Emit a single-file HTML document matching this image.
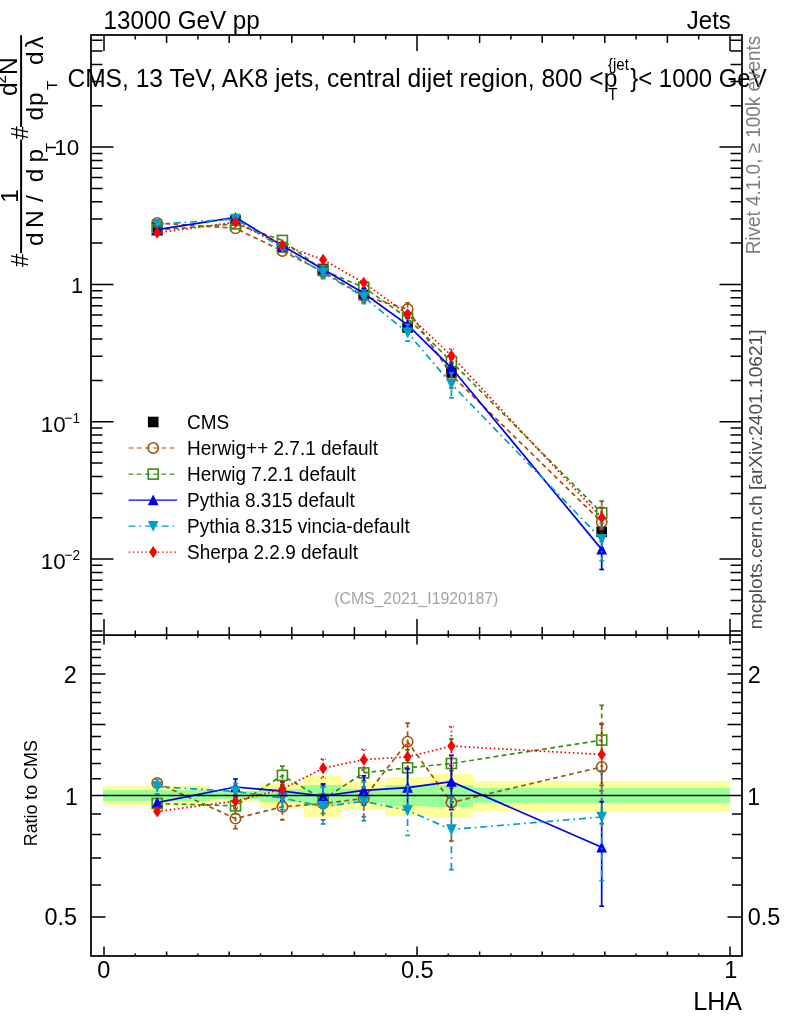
<!DOCTYPE html>
<html lang="en"><head><meta charset="utf-8"><title>LHA plot</title>
<style>html,body{margin:0;padding:0;background:#fff}body{width:786px;height:1024px;overflow:hidden}</style>
</head><body>
<svg width="786" height="1024" viewBox="0 0 786 1024" font-family='"Liberation Sans", sans-serif' style="display:block">
<rect width="786" height="1024" fill="#fff"/>
<g shape-rendering="crispEdges">
<rect x="103.2" y="785.9" width="107.2" height="19.8" fill="#ffff99"/>
<rect x="209.6" y="789.7" width="50.9" height="12.5" fill="#ffff99"/>
<rect x="259.7" y="783.0" width="44.6" height="25.4" fill="#ffff99"/>
<rect x="303.5" y="776.3" width="38.4" height="40.4" fill="#ffff99"/>
<rect x="341.1" y="782.3" width="44.6" height="27.9" fill="#ffff99"/>
<rect x="384.9" y="776.9" width="44.6" height="38.7" fill="#ffff99"/>
<rect x="428.7" y="774.2" width="44.6" height="44.2" fill="#ffff99"/>
<rect x="472.5" y="781.0" width="257.5" height="29.6" fill="#ffff99"/>
<rect x="103.2" y="790.0" width="107.2" height="10.6" fill="#99ff99"/>
<rect x="209.6" y="791.3" width="50.9" height="7.9" fill="#99ff99"/>
<rect x="259.7" y="789.3" width="44.6" height="12.5" fill="#99ff99"/>
<rect x="303.5" y="785.4" width="38.4" height="20.4" fill="#99ff99"/>
<rect x="341.1" y="788.5" width="44.6" height="14.3" fill="#99ff99"/>
<rect x="384.9" y="784.9" width="44.6" height="21.5" fill="#99ff99"/>
<rect x="428.7" y="785.0" width="44.6" height="21.6" fill="#99ff99"/>
<rect x="472.5" y="788.2" width="257.5" height="14.7" fill="#99ff99"/>
</g>
<g id="main">
<rect x="151.9" y="222.0" width="10.6" height="10.6" fill="#000"/>
<rect x="230.2" y="215.1" width="10.6" height="10.6" fill="#000"/>
<rect x="277.1" y="241.9" width="10.6" height="10.6" fill="#000"/>
<rect x="317.8" y="263.7" width="10.6" height="10.6" fill="#000"/>
<rect x="358.5" y="289.7" width="10.6" height="10.6" fill="#000"/>
<rect x="402.3" y="322.2" width="10.6" height="10.6" fill="#000"/>
<rect x="446.1" y="367.2" width="10.6" height="10.6" fill="#000"/>
<rect x="596.4" y="526.5" width="10.6" height="10.6" fill="#000"/>
<polyline points="157.2,223.0 235.5,228.3 282.4,251.0 323.1,271.8 363.8,296.0 407.6,309.2 451.4,374.9 601.7,522.1" fill="none" stroke="#a0540f" stroke-width="1.7" stroke-dasharray="4.7 3.5"/>
<line x1="323.1" y1="266.1" x2="323.1" y2="277.3" stroke="#a0540f" stroke-width="1.7" stroke-dasharray="4.7 3.5"/><line x1="320.7" y1="266.1" x2="325.5" y2="266.1" stroke="#a0540f" stroke-width="1.7" stroke-dasharray="4.7 3.5"/><line x1="320.7" y1="277.3" x2="325.5" y2="277.3" stroke="#a0540f" stroke-width="1.7" stroke-dasharray="4.7 3.5"/>
<line x1="363.8" y1="289.9" x2="363.8" y2="302.2" stroke="#a0540f" stroke-width="1.7" stroke-dasharray="4.7 3.5"/><line x1="361.4" y1="289.9" x2="366.2" y2="289.9" stroke="#a0540f" stroke-width="1.7" stroke-dasharray="4.7 3.5"/><line x1="361.4" y1="302.2" x2="366.2" y2="302.2" stroke="#a0540f" stroke-width="1.7" stroke-dasharray="4.7 3.5"/>
<line x1="407.6" y1="302.9" x2="407.6" y2="315.5" stroke="#a0540f" stroke-width="1.7" stroke-dasharray="4.7 3.5"/><line x1="405.2" y1="302.9" x2="410.0" y2="302.9" stroke="#a0540f" stroke-width="1.7" stroke-dasharray="4.7 3.5"/><line x1="405.2" y1="315.5" x2="410.0" y2="315.5" stroke="#a0540f" stroke-width="1.7" stroke-dasharray="4.7 3.5"/>
<line x1="451.4" y1="364.1" x2="451.4" y2="388.0" stroke="#a0540f" stroke-width="1.7" stroke-dasharray="4.7 3.5"/><line x1="449.0" y1="364.1" x2="453.8" y2="364.1" stroke="#a0540f" stroke-width="1.7" stroke-dasharray="4.7 3.5"/><line x1="449.0" y1="388.0" x2="453.8" y2="388.0" stroke="#a0540f" stroke-width="1.7" stroke-dasharray="4.7 3.5"/>
<line x1="601.7" y1="507.5" x2="601.7" y2="541.4" stroke="#a0540f" stroke-width="1.7" stroke-dasharray="4.7 3.5"/><line x1="599.3" y1="507.5" x2="604.1" y2="507.5" stroke="#a0540f" stroke-width="1.7" stroke-dasharray="4.7 3.5"/><line x1="599.3" y1="541.4" x2="604.1" y2="541.4" stroke="#a0540f" stroke-width="1.7" stroke-dasharray="4.7 3.5"/>
<circle cx="157.2" cy="223.0" r="5.20" fill="none" stroke="#a0540f" stroke-width="1.6"/>
<circle cx="235.5" cy="228.3" r="5.20" fill="none" stroke="#a0540f" stroke-width="1.6"/>
<circle cx="282.4" cy="251.0" r="5.20" fill="none" stroke="#a0540f" stroke-width="1.6"/>
<circle cx="323.1" cy="271.8" r="5.20" fill="none" stroke="#a0540f" stroke-width="1.6"/>
<circle cx="363.8" cy="296.0" r="5.20" fill="none" stroke="#a0540f" stroke-width="1.6"/>
<circle cx="407.6" cy="309.2" r="5.20" fill="none" stroke="#a0540f" stroke-width="1.6"/>
<circle cx="451.4" cy="374.9" r="5.20" fill="none" stroke="#a0540f" stroke-width="1.6"/>
<circle cx="601.7" cy="522.1" r="5.20" fill="none" stroke="#a0540f" stroke-width="1.6"/>
<polyline points="157.2,230.0 235.5,223.9 282.4,240.4 323.1,270.3 363.8,287.3 407.6,318.1 451.4,361.6 601.7,512.9" fill="none" stroke="#3a8c12" stroke-width="1.7" stroke-dasharray="4.7 3.5"/>
<line x1="323.1" y1="265.4" x2="323.1" y2="275.1" stroke="#3a8c12" stroke-width="1.7" stroke-dasharray="4.7 3.5"/><line x1="320.7" y1="265.4" x2="325.5" y2="265.4" stroke="#3a8c12" stroke-width="1.7" stroke-dasharray="4.7 3.5"/><line x1="320.7" y1="275.1" x2="325.5" y2="275.1" stroke="#3a8c12" stroke-width="1.7" stroke-dasharray="4.7 3.5"/>
<line x1="363.8" y1="282.6" x2="363.8" y2="292.1" stroke="#3a8c12" stroke-width="1.7" stroke-dasharray="4.7 3.5"/><line x1="361.4" y1="282.6" x2="366.2" y2="282.6" stroke="#3a8c12" stroke-width="1.7" stroke-dasharray="4.7 3.5"/><line x1="361.4" y1="292.1" x2="366.2" y2="292.1" stroke="#3a8c12" stroke-width="1.7" stroke-dasharray="4.7 3.5"/>
<line x1="407.6" y1="311.9" x2="407.6" y2="324.3" stroke="#3a8c12" stroke-width="1.7" stroke-dasharray="4.7 3.5"/><line x1="405.2" y1="311.9" x2="410.0" y2="311.9" stroke="#3a8c12" stroke-width="1.7" stroke-dasharray="4.7 3.5"/><line x1="405.2" y1="324.3" x2="410.0" y2="324.3" stroke="#3a8c12" stroke-width="1.7" stroke-dasharray="4.7 3.5"/>
<line x1="451.4" y1="353.2" x2="451.4" y2="369.9" stroke="#3a8c12" stroke-width="1.7" stroke-dasharray="4.7 3.5"/><line x1="449.0" y1="353.2" x2="453.8" y2="353.2" stroke="#3a8c12" stroke-width="1.7" stroke-dasharray="4.7 3.5"/><line x1="449.0" y1="369.9" x2="453.8" y2="369.9" stroke="#3a8c12" stroke-width="1.7" stroke-dasharray="4.7 3.5"/>
<line x1="601.7" y1="501.1" x2="601.7" y2="528.4" stroke="#3a8c12" stroke-width="1.7" stroke-dasharray="4.7 3.5"/><line x1="599.3" y1="501.1" x2="604.1" y2="501.1" stroke="#3a8c12" stroke-width="1.7" stroke-dasharray="4.7 3.5"/><line x1="599.3" y1="528.4" x2="604.1" y2="528.4" stroke="#3a8c12" stroke-width="1.7" stroke-dasharray="4.7 3.5"/>
<rect x="152.2" y="225.0" width="10.0" height="10.0" fill="none" stroke="#3a8c12" stroke-width="1.6"/>
<rect x="230.5" y="218.9" width="10.0" height="10.0" fill="none" stroke="#3a8c12" stroke-width="1.6"/>
<rect x="277.4" y="235.4" width="10.0" height="10.0" fill="none" stroke="#3a8c12" stroke-width="1.6"/>
<rect x="318.1" y="265.3" width="10.0" height="10.0" fill="none" stroke="#3a8c12" stroke-width="1.6"/>
<rect x="358.8" y="282.3" width="10.0" height="10.0" fill="none" stroke="#3a8c12" stroke-width="1.6"/>
<rect x="402.6" y="313.1" width="10.0" height="10.0" fill="none" stroke="#3a8c12" stroke-width="1.6"/>
<rect x="446.4" y="356.6" width="10.0" height="10.0" fill="none" stroke="#3a8c12" stroke-width="1.6"/>
<rect x="596.7" y="507.9" width="10.0" height="10.0" fill="none" stroke="#3a8c12" stroke-width="1.6"/>
<polyline points="157.2,229.7 235.5,217.5 282.4,245.7 323.1,269.2 363.8,293.3 407.6,324.8 451.4,367.8 601.7,549.4" fill="none" stroke="#0000ee" stroke-width="1.7"/>
<line x1="363.8" y1="288.3" x2="363.8" y2="298.2" stroke="#0000ee" stroke-width="1.7"/><line x1="361.4" y1="288.3" x2="366.2" y2="288.3" stroke="#0000ee" stroke-width="1.7"/><line x1="361.4" y1="298.2" x2="366.2" y2="298.2" stroke="#0000ee" stroke-width="1.7"/>
<line x1="407.6" y1="318.3" x2="407.6" y2="331.3" stroke="#0000ee" stroke-width="1.7"/><line x1="405.2" y1="318.3" x2="410.0" y2="318.3" stroke="#0000ee" stroke-width="1.7"/><line x1="405.2" y1="331.3" x2="410.0" y2="331.3" stroke="#0000ee" stroke-width="1.7"/>
<line x1="451.4" y1="358.8" x2="451.4" y2="377.3" stroke="#0000ee" stroke-width="1.7"/><line x1="449.0" y1="358.8" x2="453.8" y2="358.8" stroke="#0000ee" stroke-width="1.7"/><line x1="449.0" y1="377.3" x2="453.8" y2="377.3" stroke="#0000ee" stroke-width="1.7"/>
<line x1="601.7" y1="533.9" x2="601.7" y2="569.5" stroke="#0000ee" stroke-width="1.7"/><line x1="599.3" y1="533.9" x2="604.1" y2="533.9" stroke="#0000ee" stroke-width="1.7"/><line x1="599.3" y1="569.5" x2="604.1" y2="569.5" stroke="#0000ee" stroke-width="1.7"/>
<polygon points="151.8,234.9 162.6,234.9 157.2,224.1" fill="#0000ee"/>
<polygon points="230.1,222.7 240.9,222.7 235.5,211.9" fill="#0000ee"/>
<polygon points="277.0,250.9 287.8,250.9 282.4,240.1" fill="#0000ee"/>
<polygon points="317.7,274.4 328.5,274.4 323.1,263.6" fill="#0000ee"/>
<polygon points="358.4,298.5 369.2,298.5 363.8,287.7" fill="#0000ee"/>
<polygon points="402.2,330.0 413.0,330.0 407.6,319.2" fill="#0000ee"/>
<polygon points="446.0,373.0 456.8,373.0 451.4,362.2" fill="#0000ee"/>
<polygon points="596.3,554.6 607.1,554.6 601.7,543.8" fill="#0000ee"/>
<polyline points="157.2,224.2 235.5,219.0 282.4,248.1 323.1,272.8 363.8,297.0 407.6,332.6 451.4,384.1 601.7,539.1" fill="none" stroke="#00a0c4" stroke-width="1.7" stroke-dasharray="7 3.9 1.7 3.9"/>
<line x1="323.1" y1="266.1" x2="323.1" y2="278.7" stroke="#00a0c4" stroke-width="1.7" stroke-dasharray="7 3.9 1.7 3.9"/><line x1="320.7" y1="266.1" x2="325.5" y2="266.1" stroke="#00a0c4" stroke-width="1.7" stroke-dasharray="7 3.9 1.7 3.9"/><line x1="320.7" y1="278.7" x2="325.5" y2="278.7" stroke="#00a0c4" stroke-width="1.7" stroke-dasharray="7 3.9 1.7 3.9"/>
<line x1="363.8" y1="290.4" x2="363.8" y2="303.6" stroke="#00a0c4" stroke-width="1.7" stroke-dasharray="7 3.9 1.7 3.9"/><line x1="361.4" y1="290.4" x2="366.2" y2="290.4" stroke="#00a0c4" stroke-width="1.7" stroke-dasharray="7 3.9 1.7 3.9"/><line x1="361.4" y1="303.6" x2="366.2" y2="303.6" stroke="#00a0c4" stroke-width="1.7" stroke-dasharray="7 3.9 1.7 3.9"/>
<line x1="407.6" y1="324.3" x2="407.6" y2="341.1" stroke="#00a0c4" stroke-width="1.7" stroke-dasharray="7 3.9 1.7 3.9"/><line x1="405.2" y1="324.3" x2="410.0" y2="324.3" stroke="#00a0c4" stroke-width="1.7" stroke-dasharray="7 3.9 1.7 3.9"/><line x1="405.2" y1="341.1" x2="410.0" y2="341.1" stroke="#00a0c4" stroke-width="1.7" stroke-dasharray="7 3.9 1.7 3.9"/>
<line x1="451.4" y1="372.9" x2="451.4" y2="397.8" stroke="#00a0c4" stroke-width="1.7" stroke-dasharray="7 3.9 1.7 3.9"/><line x1="449.0" y1="372.9" x2="453.8" y2="372.9" stroke="#00a0c4" stroke-width="1.7" stroke-dasharray="7 3.9 1.7 3.9"/><line x1="449.0" y1="397.8" x2="453.8" y2="397.8" stroke="#00a0c4" stroke-width="1.7" stroke-dasharray="7 3.9 1.7 3.9"/>
<line x1="601.7" y1="523.4" x2="601.7" y2="560.8" stroke="#00a0c4" stroke-width="1.7" stroke-dasharray="7 3.9 1.7 3.9"/><line x1="599.3" y1="523.4" x2="604.1" y2="523.4" stroke="#00a0c4" stroke-width="1.7" stroke-dasharray="7 3.9 1.7 3.9"/><line x1="599.3" y1="560.8" x2="604.1" y2="560.8" stroke="#00a0c4" stroke-width="1.7" stroke-dasharray="7 3.9 1.7 3.9"/>
<polygon points="151.8,219.0 162.6,219.0 157.2,229.8" fill="#00a0c4"/>
<polygon points="230.1,213.8 240.9,213.8 235.5,224.6" fill="#00a0c4"/>
<polygon points="277.0,242.9 287.8,242.9 282.4,253.7" fill="#00a0c4"/>
<polygon points="317.7,267.6 328.5,267.6 323.1,278.4" fill="#00a0c4"/>
<polygon points="358.4,291.8 369.2,291.8 363.8,302.6" fill="#00a0c4"/>
<polygon points="402.2,327.4 413.0,327.4 407.6,338.2" fill="#00a0c4"/>
<polygon points="446.0,378.9 456.8,378.9 451.4,389.7" fill="#00a0c4"/>
<polygon points="596.3,533.9 607.1,533.9 601.7,544.7" fill="#00a0c4"/>
<polyline points="157.2,232.7 235.5,222.3 282.4,245.0 323.1,259.7 363.8,282.8 407.6,314.3 451.4,355.7 601.7,517.8" fill="none" stroke="#ff0000" stroke-width="1.7" stroke-dasharray="1.6 2.57"/>
<line x1="451.4" y1="349.0" x2="451.4" y2="362.3" stroke="#ff0000" stroke-width="1.7" stroke-dasharray="1.6 2.57"/><line x1="449.0" y1="349.0" x2="453.8" y2="349.0" stroke="#ff0000" stroke-width="1.7" stroke-dasharray="1.6 2.57"/><line x1="449.0" y1="362.3" x2="453.8" y2="362.3" stroke="#ff0000" stroke-width="1.7" stroke-dasharray="1.6 2.57"/>
<line x1="601.7" y1="507.4" x2="601.7" y2="530.3" stroke="#ff0000" stroke-width="1.7" stroke-dasharray="1.6 2.57"/><line x1="599.3" y1="507.4" x2="604.1" y2="507.4" stroke="#ff0000" stroke-width="1.7" stroke-dasharray="1.6 2.57"/><line x1="599.3" y1="530.3" x2="604.1" y2="530.3" stroke="#ff0000" stroke-width="1.7" stroke-dasharray="1.6 2.57"/>
<polygon points="157.2,226.7 161.3,232.7 157.2,238.7 153.1,232.7" fill="#ff0000"/>
<polygon points="235.5,216.3 239.6,222.3 235.5,228.3 231.4,222.3" fill="#ff0000"/>
<polygon points="282.4,239.0 286.5,245.0 282.4,251.0 278.3,245.0" fill="#ff0000"/>
<polygon points="323.1,253.7 327.2,259.7 323.1,265.7 319.0,259.7" fill="#ff0000"/>
<polygon points="363.8,276.8 367.9,282.8 363.8,288.8 359.7,282.8" fill="#ff0000"/>
<polygon points="407.6,308.3 411.7,314.3 407.6,320.3 403.5,314.3" fill="#ff0000"/>
<polygon points="451.4,349.7 455.5,355.7 451.4,361.7 447.3,355.7" fill="#ff0000"/>
<polygon points="601.7,511.8 605.8,517.8 601.7,523.8 597.6,517.8" fill="#ff0000"/>
</g>
<g id="ratio">
<polyline points="157.2,782.9 235.5,818.6 282.4,806.8 323.1,803.6 363.8,798.4 407.6,741.7 451.4,802.5 601.7,766.9" fill="none" stroke="#a0540f" stroke-width="1.7" stroke-dasharray="4.7 3.5"/>
<line x1="235.5" y1="808.6" x2="235.5" y2="828.7" stroke="#a0540f" stroke-width="1.7" stroke-dasharray="4.7 3.5"/><line x1="233.1" y1="808.6" x2="237.9" y2="808.6" stroke="#a0540f" stroke-width="1.7" stroke-dasharray="4.7 3.5"/><line x1="233.1" y1="828.7" x2="237.9" y2="828.7" stroke="#a0540f" stroke-width="1.7" stroke-dasharray="4.7 3.5"/>
<line x1="282.4" y1="793.7" x2="282.4" y2="819.9" stroke="#a0540f" stroke-width="1.7" stroke-dasharray="4.7 3.5"/><line x1="280.0" y1="793.7" x2="284.8" y2="793.7" stroke="#a0540f" stroke-width="1.7" stroke-dasharray="4.7 3.5"/><line x1="280.0" y1="819.9" x2="284.8" y2="819.9" stroke="#a0540f" stroke-width="1.7" stroke-dasharray="4.7 3.5"/>
<line x1="323.1" y1="787.0" x2="323.1" y2="819.9" stroke="#a0540f" stroke-width="1.7" stroke-dasharray="4.7 3.5"/><line x1="320.7" y1="787.0" x2="325.5" y2="787.0" stroke="#a0540f" stroke-width="1.7" stroke-dasharray="4.7 3.5"/><line x1="320.7" y1="819.9" x2="325.5" y2="819.9" stroke="#a0540f" stroke-width="1.7" stroke-dasharray="4.7 3.5"/>
<line x1="363.8" y1="780.5" x2="363.8" y2="816.7" stroke="#a0540f" stroke-width="1.7" stroke-dasharray="4.7 3.5"/><line x1="361.4" y1="780.5" x2="366.2" y2="780.5" stroke="#a0540f" stroke-width="1.7" stroke-dasharray="4.7 3.5"/><line x1="361.4" y1="816.7" x2="366.2" y2="816.7" stroke="#a0540f" stroke-width="1.7" stroke-dasharray="4.7 3.5"/>
<line x1="407.6" y1="723.1" x2="407.6" y2="760.3" stroke="#a0540f" stroke-width="1.7" stroke-dasharray="4.7 3.5"/><line x1="405.2" y1="723.1" x2="410.0" y2="723.1" stroke="#a0540f" stroke-width="1.7" stroke-dasharray="4.7 3.5"/><line x1="405.2" y1="760.3" x2="410.0" y2="760.3" stroke="#a0540f" stroke-width="1.7" stroke-dasharray="4.7 3.5"/>
<line x1="451.4" y1="770.7" x2="451.4" y2="841.0" stroke="#a0540f" stroke-width="1.7" stroke-dasharray="4.7 3.5"/><line x1="449.0" y1="770.7" x2="453.8" y2="770.7" stroke="#a0540f" stroke-width="1.7" stroke-dasharray="4.7 3.5"/><line x1="449.0" y1="841.0" x2="453.8" y2="841.0" stroke="#a0540f" stroke-width="1.7" stroke-dasharray="4.7 3.5"/>
<line x1="601.7" y1="724.0" x2="601.7" y2="823.7" stroke="#a0540f" stroke-width="1.7" stroke-dasharray="4.7 3.5"/><line x1="599.3" y1="724.0" x2="604.1" y2="724.0" stroke="#a0540f" stroke-width="1.7" stroke-dasharray="4.7 3.5"/><line x1="599.3" y1="823.7" x2="604.1" y2="823.7" stroke="#a0540f" stroke-width="1.7" stroke-dasharray="4.7 3.5"/>
<circle cx="157.2" cy="782.9" r="5.20" fill="none" stroke="#a0540f" stroke-width="1.6"/>
<circle cx="235.5" cy="818.6" r="5.20" fill="none" stroke="#a0540f" stroke-width="1.6"/>
<circle cx="282.4" cy="806.8" r="5.20" fill="none" stroke="#a0540f" stroke-width="1.6"/>
<circle cx="323.1" cy="803.6" r="5.20" fill="none" stroke="#a0540f" stroke-width="1.6"/>
<circle cx="363.8" cy="798.4" r="5.20" fill="none" stroke="#a0540f" stroke-width="1.6"/>
<circle cx="407.6" cy="741.7" r="5.20" fill="none" stroke="#a0540f" stroke-width="1.6"/>
<circle cx="451.4" cy="802.5" r="5.20" fill="none" stroke="#a0540f" stroke-width="1.6"/>
<circle cx="601.7" cy="766.9" r="5.20" fill="none" stroke="#a0540f" stroke-width="1.6"/>
<polyline points="157.2,803.5 235.5,805.9 282.4,775.4 323.1,799.3 363.8,772.9 407.6,767.8 451.4,763.5 601.7,740.1" fill="none" stroke="#3a8c12" stroke-width="1.7" stroke-dasharray="4.7 3.5"/>
<line x1="235.5" y1="798.0" x2="235.5" y2="813.9" stroke="#3a8c12" stroke-width="1.7" stroke-dasharray="4.7 3.5"/><line x1="233.1" y1="798.0" x2="237.9" y2="798.0" stroke="#3a8c12" stroke-width="1.7" stroke-dasharray="4.7 3.5"/><line x1="233.1" y1="813.9" x2="237.9" y2="813.9" stroke="#3a8c12" stroke-width="1.7" stroke-dasharray="4.7 3.5"/>
<line x1="282.4" y1="766.1" x2="282.4" y2="784.7" stroke="#3a8c12" stroke-width="1.7" stroke-dasharray="4.7 3.5"/><line x1="280.0" y1="766.1" x2="284.8" y2="766.1" stroke="#3a8c12" stroke-width="1.7" stroke-dasharray="4.7 3.5"/><line x1="280.0" y1="784.7" x2="284.8" y2="784.7" stroke="#3a8c12" stroke-width="1.7" stroke-dasharray="4.7 3.5"/>
<line x1="323.1" y1="785.0" x2="323.1" y2="813.5" stroke="#3a8c12" stroke-width="1.7" stroke-dasharray="4.7 3.5"/><line x1="320.7" y1="785.0" x2="325.5" y2="785.0" stroke="#3a8c12" stroke-width="1.7" stroke-dasharray="4.7 3.5"/><line x1="320.7" y1="813.5" x2="325.5" y2="813.5" stroke="#3a8c12" stroke-width="1.7" stroke-dasharray="4.7 3.5"/>
<line x1="363.8" y1="759.0" x2="363.8" y2="787.0" stroke="#3a8c12" stroke-width="1.7" stroke-dasharray="4.7 3.5"/><line x1="361.4" y1="759.0" x2="366.2" y2="759.0" stroke="#3a8c12" stroke-width="1.7" stroke-dasharray="4.7 3.5"/><line x1="361.4" y1="787.0" x2="366.2" y2="787.0" stroke="#3a8c12" stroke-width="1.7" stroke-dasharray="4.7 3.5"/>
<line x1="407.6" y1="749.8" x2="407.6" y2="786.0" stroke="#3a8c12" stroke-width="1.7" stroke-dasharray="4.7 3.5"/><line x1="405.2" y1="749.8" x2="410.0" y2="749.8" stroke="#3a8c12" stroke-width="1.7" stroke-dasharray="4.7 3.5"/><line x1="405.2" y1="786.0" x2="410.0" y2="786.0" stroke="#3a8c12" stroke-width="1.7" stroke-dasharray="4.7 3.5"/>
<line x1="451.4" y1="738.9" x2="451.4" y2="788.0" stroke="#3a8c12" stroke-width="1.7" stroke-dasharray="4.7 3.5"/><line x1="449.0" y1="738.9" x2="453.8" y2="738.9" stroke="#3a8c12" stroke-width="1.7" stroke-dasharray="4.7 3.5"/><line x1="449.0" y1="788.0" x2="453.8" y2="788.0" stroke="#3a8c12" stroke-width="1.7" stroke-dasharray="4.7 3.5"/>
<line x1="601.7" y1="705.3" x2="601.7" y2="785.5" stroke="#3a8c12" stroke-width="1.7" stroke-dasharray="4.7 3.5"/><line x1="599.3" y1="705.3" x2="604.1" y2="705.3" stroke="#3a8c12" stroke-width="1.7" stroke-dasharray="4.7 3.5"/><line x1="599.3" y1="785.5" x2="604.1" y2="785.5" stroke="#3a8c12" stroke-width="1.7" stroke-dasharray="4.7 3.5"/>
<rect x="152.2" y="798.5" width="10.0" height="10.0" fill="none" stroke="#3a8c12" stroke-width="1.6"/>
<rect x="230.5" y="800.9" width="10.0" height="10.0" fill="none" stroke="#3a8c12" stroke-width="1.6"/>
<rect x="277.4" y="770.4" width="10.0" height="10.0" fill="none" stroke="#3a8c12" stroke-width="1.6"/>
<rect x="318.1" y="794.3" width="10.0" height="10.0" fill="none" stroke="#3a8c12" stroke-width="1.6"/>
<rect x="358.8" y="767.9" width="10.0" height="10.0" fill="none" stroke="#3a8c12" stroke-width="1.6"/>
<rect x="402.6" y="762.8" width="10.0" height="10.0" fill="none" stroke="#3a8c12" stroke-width="1.6"/>
<rect x="446.4" y="758.5" width="10.0" height="10.0" fill="none" stroke="#3a8c12" stroke-width="1.6"/>
<rect x="596.7" y="735.1" width="10.0" height="10.0" fill="none" stroke="#3a8c12" stroke-width="1.6"/>
<polyline points="157.2,802.6 235.5,787.0 282.4,791.2 323.1,796.0 363.8,790.4 407.6,787.6 451.4,781.6 601.7,847.3" fill="none" stroke="#0000ee" stroke-width="1.7"/>
<line x1="235.5" y1="779.0" x2="235.5" y2="796.0" stroke="#0000ee" stroke-width="1.7"/><line x1="233.1" y1="779.0" x2="237.9" y2="779.0" stroke="#0000ee" stroke-width="1.7"/><line x1="233.1" y1="796.0" x2="237.9" y2="796.0" stroke="#0000ee" stroke-width="1.7"/>
<line x1="282.4" y1="782.0" x2="282.4" y2="800.5" stroke="#0000ee" stroke-width="1.7"/><line x1="280.0" y1="782.0" x2="284.8" y2="782.0" stroke="#0000ee" stroke-width="1.7"/><line x1="280.0" y1="800.5" x2="284.8" y2="800.5" stroke="#0000ee" stroke-width="1.7"/>
<line x1="323.1" y1="783.9" x2="323.1" y2="806.5" stroke="#0000ee" stroke-width="1.7"/><line x1="320.7" y1="783.9" x2="325.5" y2="783.9" stroke="#0000ee" stroke-width="1.7"/><line x1="320.7" y1="806.5" x2="325.5" y2="806.5" stroke="#0000ee" stroke-width="1.7"/>
<line x1="363.8" y1="775.8" x2="363.8" y2="805.0" stroke="#0000ee" stroke-width="1.7"/><line x1="361.4" y1="775.8" x2="366.2" y2="775.8" stroke="#0000ee" stroke-width="1.7"/><line x1="361.4" y1="805.0" x2="366.2" y2="805.0" stroke="#0000ee" stroke-width="1.7"/>
<line x1="407.6" y1="768.5" x2="407.6" y2="806.7" stroke="#0000ee" stroke-width="1.7"/><line x1="405.2" y1="768.5" x2="410.0" y2="768.5" stroke="#0000ee" stroke-width="1.7"/><line x1="405.2" y1="806.7" x2="410.0" y2="806.7" stroke="#0000ee" stroke-width="1.7"/>
<line x1="451.4" y1="755.3" x2="451.4" y2="809.6" stroke="#0000ee" stroke-width="1.7"/><line x1="449.0" y1="755.3" x2="453.8" y2="755.3" stroke="#0000ee" stroke-width="1.7"/><line x1="449.0" y1="809.6" x2="453.8" y2="809.6" stroke="#0000ee" stroke-width="1.7"/>
<line x1="601.7" y1="801.7" x2="601.7" y2="906.2" stroke="#0000ee" stroke-width="1.7"/><line x1="599.3" y1="801.7" x2="604.1" y2="801.7" stroke="#0000ee" stroke-width="1.7"/><line x1="599.3" y1="906.2" x2="604.1" y2="906.2" stroke="#0000ee" stroke-width="1.7"/>
<polygon points="151.8,807.8 162.6,807.8 157.2,797.0" fill="#0000ee"/>
<polygon points="230.1,792.2 240.9,792.2 235.5,781.4" fill="#0000ee"/>
<polygon points="277.0,796.4 287.8,796.4 282.4,785.6" fill="#0000ee"/>
<polygon points="317.7,801.2 328.5,801.2 323.1,790.4" fill="#0000ee"/>
<polygon points="358.4,795.6 369.2,795.6 363.8,784.8" fill="#0000ee"/>
<polygon points="402.2,792.8 413.0,792.8 407.6,782.0" fill="#0000ee"/>
<polygon points="446.0,786.8 456.8,786.8 451.4,776.0" fill="#0000ee"/>
<polygon points="596.3,852.5 607.1,852.5 601.7,841.7" fill="#0000ee"/>
<polyline points="157.2,786.5 235.5,791.5 282.4,798.0 323.1,806.6 363.8,801.3 407.6,810.5 451.4,829.5 601.7,817.0" fill="none" stroke="#00a0c4" stroke-width="1.7" stroke-dasharray="7 3.9 1.7 3.9"/>
<line x1="157.2" y1="779.7" x2="157.2" y2="793.9" stroke="#00a0c4" stroke-width="1.7" stroke-dasharray="7 3.9 1.7 3.9"/><line x1="154.8" y1="779.7" x2="159.6" y2="779.7" stroke="#00a0c4" stroke-width="1.7" stroke-dasharray="7 3.9 1.7 3.9"/><line x1="154.8" y1="793.9" x2="159.6" y2="793.9" stroke="#00a0c4" stroke-width="1.7" stroke-dasharray="7 3.9 1.7 3.9"/>
<line x1="235.5" y1="783.5" x2="235.5" y2="799.5" stroke="#00a0c4" stroke-width="1.7" stroke-dasharray="7 3.9 1.7 3.9"/><line x1="233.1" y1="783.5" x2="237.9" y2="783.5" stroke="#00a0c4" stroke-width="1.7" stroke-dasharray="7 3.9 1.7 3.9"/><line x1="233.1" y1="799.5" x2="237.9" y2="799.5" stroke="#00a0c4" stroke-width="1.7" stroke-dasharray="7 3.9 1.7 3.9"/>
<line x1="282.4" y1="786.0" x2="282.4" y2="809.7" stroke="#00a0c4" stroke-width="1.7" stroke-dasharray="7 3.9 1.7 3.9"/><line x1="280.0" y1="786.0" x2="284.8" y2="786.0" stroke="#00a0c4" stroke-width="1.7" stroke-dasharray="7 3.9 1.7 3.9"/><line x1="280.0" y1="809.7" x2="284.8" y2="809.7" stroke="#00a0c4" stroke-width="1.7" stroke-dasharray="7 3.9 1.7 3.9"/>
<line x1="323.1" y1="787.0" x2="323.1" y2="824.0" stroke="#00a0c4" stroke-width="1.7" stroke-dasharray="7 3.9 1.7 3.9"/><line x1="320.7" y1="787.0" x2="325.5" y2="787.0" stroke="#00a0c4" stroke-width="1.7" stroke-dasharray="7 3.9 1.7 3.9"/><line x1="320.7" y1="824.0" x2="325.5" y2="824.0" stroke="#00a0c4" stroke-width="1.7" stroke-dasharray="7 3.9 1.7 3.9"/>
<line x1="363.8" y1="782.0" x2="363.8" y2="820.8" stroke="#00a0c4" stroke-width="1.7" stroke-dasharray="7 3.9 1.7 3.9"/><line x1="361.4" y1="782.0" x2="366.2" y2="782.0" stroke="#00a0c4" stroke-width="1.7" stroke-dasharray="7 3.9 1.7 3.9"/><line x1="361.4" y1="820.8" x2="366.2" y2="820.8" stroke="#00a0c4" stroke-width="1.7" stroke-dasharray="7 3.9 1.7 3.9"/>
<line x1="407.6" y1="786.0" x2="407.6" y2="835.4" stroke="#00a0c4" stroke-width="1.7" stroke-dasharray="7 3.9 1.7 3.9"/><line x1="405.2" y1="786.0" x2="410.0" y2="786.0" stroke="#00a0c4" stroke-width="1.7" stroke-dasharray="7 3.9 1.7 3.9"/><line x1="405.2" y1="835.4" x2="410.0" y2="835.4" stroke="#00a0c4" stroke-width="1.7" stroke-dasharray="7 3.9 1.7 3.9"/>
<line x1="451.4" y1="796.8" x2="451.4" y2="869.7" stroke="#00a0c4" stroke-width="1.7" stroke-dasharray="7 3.9 1.7 3.9"/><line x1="449.0" y1="796.8" x2="453.8" y2="796.8" stroke="#00a0c4" stroke-width="1.7" stroke-dasharray="7 3.9 1.7 3.9"/><line x1="449.0" y1="869.7" x2="453.8" y2="869.7" stroke="#00a0c4" stroke-width="1.7" stroke-dasharray="7 3.9 1.7 3.9"/>
<line x1="601.7" y1="770.9" x2="601.7" y2="880.6" stroke="#00a0c4" stroke-width="1.7" stroke-dasharray="7 3.9 1.7 3.9"/><line x1="599.3" y1="770.9" x2="604.1" y2="770.9" stroke="#00a0c4" stroke-width="1.7" stroke-dasharray="7 3.9 1.7 3.9"/><line x1="599.3" y1="880.6" x2="604.1" y2="880.6" stroke="#00a0c4" stroke-width="1.7" stroke-dasharray="7 3.9 1.7 3.9"/>
<polygon points="151.8,781.3 162.6,781.3 157.2,792.1" fill="#00a0c4"/>
<polygon points="230.1,786.3 240.9,786.3 235.5,797.1" fill="#00a0c4"/>
<polygon points="277.0,792.8 287.8,792.8 282.4,803.6" fill="#00a0c4"/>
<polygon points="317.7,801.4 328.5,801.4 323.1,812.2" fill="#00a0c4"/>
<polygon points="358.4,796.1 369.2,796.1 363.8,806.9" fill="#00a0c4"/>
<polygon points="402.2,805.3 413.0,805.3 407.6,816.1" fill="#00a0c4"/>
<polygon points="446.0,824.3 456.8,824.3 451.4,835.1" fill="#00a0c4"/>
<polygon points="596.3,811.8 607.1,811.8 601.7,822.6" fill="#00a0c4"/>
<polyline points="157.2,811.4 235.5,801.2 282.4,789.0 323.1,768.2 363.8,759.7 407.6,756.8 451.4,746.1 601.7,754.5" fill="none" stroke="#ff0000" stroke-width="1.7" stroke-dasharray="1.6 2.57"/>
<line x1="235.5" y1="795.0" x2="235.5" y2="807.4" stroke="#ff0000" stroke-width="1.7" stroke-dasharray="1.6 2.57"/><line x1="233.1" y1="795.0" x2="237.9" y2="795.0" stroke="#ff0000" stroke-width="1.7" stroke-dasharray="1.6 2.57"/><line x1="233.1" y1="807.4" x2="237.9" y2="807.4" stroke="#ff0000" stroke-width="1.7" stroke-dasharray="1.6 2.57"/>
<line x1="282.4" y1="781.5" x2="282.4" y2="796.5" stroke="#ff0000" stroke-width="1.7" stroke-dasharray="1.6 2.57"/><line x1="280.0" y1="781.5" x2="284.8" y2="781.5" stroke="#ff0000" stroke-width="1.7" stroke-dasharray="1.6 2.57"/><line x1="280.0" y1="796.5" x2="284.8" y2="796.5" stroke="#ff0000" stroke-width="1.7" stroke-dasharray="1.6 2.57"/>
<line x1="323.1" y1="759.1" x2="323.1" y2="778.0" stroke="#ff0000" stroke-width="1.7" stroke-dasharray="1.6 2.57"/><line x1="320.7" y1="759.1" x2="325.5" y2="759.1" stroke="#ff0000" stroke-width="1.7" stroke-dasharray="1.6 2.57"/><line x1="320.7" y1="778.0" x2="325.5" y2="778.0" stroke="#ff0000" stroke-width="1.7" stroke-dasharray="1.6 2.57"/>
<line x1="363.8" y1="749.5" x2="363.8" y2="770.0" stroke="#ff0000" stroke-width="1.7" stroke-dasharray="1.6 2.57"/><line x1="361.4" y1="749.5" x2="366.2" y2="749.5" stroke="#ff0000" stroke-width="1.7" stroke-dasharray="1.6 2.57"/><line x1="361.4" y1="770.0" x2="366.2" y2="770.0" stroke="#ff0000" stroke-width="1.7" stroke-dasharray="1.6 2.57"/>
<line x1="407.6" y1="744.5" x2="407.6" y2="769.5" stroke="#ff0000" stroke-width="1.7" stroke-dasharray="1.6 2.57"/><line x1="405.2" y1="744.5" x2="410.0" y2="744.5" stroke="#ff0000" stroke-width="1.7" stroke-dasharray="1.6 2.57"/><line x1="405.2" y1="769.5" x2="410.0" y2="769.5" stroke="#ff0000" stroke-width="1.7" stroke-dasharray="1.6 2.57"/>
<line x1="451.4" y1="726.6" x2="451.4" y2="765.6" stroke="#ff0000" stroke-width="1.7" stroke-dasharray="1.6 2.57"/><line x1="449.0" y1="726.6" x2="453.8" y2="726.6" stroke="#ff0000" stroke-width="1.7" stroke-dasharray="1.6 2.57"/><line x1="449.0" y1="765.6" x2="453.8" y2="765.6" stroke="#ff0000" stroke-width="1.7" stroke-dasharray="1.6 2.57"/>
<line x1="601.7" y1="723.7" x2="601.7" y2="791.0" stroke="#ff0000" stroke-width="1.7" stroke-dasharray="1.6 2.57"/><line x1="599.3" y1="723.7" x2="604.1" y2="723.7" stroke="#ff0000" stroke-width="1.7" stroke-dasharray="1.6 2.57"/><line x1="599.3" y1="791.0" x2="604.1" y2="791.0" stroke="#ff0000" stroke-width="1.7" stroke-dasharray="1.6 2.57"/>
<polygon points="157.2,805.4 161.3,811.4 157.2,817.4 153.1,811.4" fill="#ff0000"/>
<polygon points="235.5,795.2 239.6,801.2 235.5,807.2 231.4,801.2" fill="#ff0000"/>
<polygon points="282.4,783.0 286.5,789.0 282.4,795.0 278.3,789.0" fill="#ff0000"/>
<polygon points="323.1,762.2 327.2,768.2 323.1,774.2 319.0,768.2" fill="#ff0000"/>
<polygon points="363.8,753.7 367.9,759.7 363.8,765.7 359.7,759.7" fill="#ff0000"/>
<polygon points="407.6,750.8 411.7,756.8 407.6,762.8 403.5,756.8" fill="#ff0000"/>
<polygon points="451.4,740.1 455.5,746.1 451.4,752.1 447.3,746.1" fill="#ff0000"/>
<polygon points="601.7,748.5 605.8,754.5 601.7,760.5 597.6,754.5" fill="#ff0000"/>
</g>
<line x1="91.0" y1="795.5" x2="742.0" y2="795.5" stroke="#000" stroke-width="1.3"/>
<g stroke="#000" fill="none">
<rect x="91.0" y="35.0" width="651.0" height="921.0" stroke-width="1.75"/>
<line x1="91.0" y1="635.0" x2="742.0" y2="635.0" stroke-width="1.75"/>
<path d="M104.0,35.0v16M104.0,619.0V644.5M104.0,956.0v-9.5M135.3,35.0v4.5M135.3,630.5V637.6M135.3,956.0v-2.6M166.6,35.0v8M166.6,627.0V639.5M166.6,956.0v-4.5M197.9,35.0v4.5M197.9,630.5V637.6M197.9,956.0v-2.6M229.2,35.0v8M229.2,627.0V639.5M229.2,956.0v-4.5M260.5,35.0v4.5M260.5,630.5V637.6M260.5,956.0v-2.6M291.8,35.0v8M291.8,627.0V639.5M291.8,956.0v-4.5M323.1,35.0v4.5M323.1,630.5V637.6M323.1,956.0v-2.6M354.4,35.0v8M354.4,627.0V639.5M354.4,956.0v-4.5M385.7,35.0v4.5M385.7,630.5V637.6M385.7,956.0v-2.6M417.0,35.0v16M417.0,619.0V644.5M417.0,956.0v-9.5M448.3,35.0v4.5M448.3,630.5V637.6M448.3,956.0v-2.6M479.6,35.0v8M479.6,627.0V639.5M479.6,956.0v-4.5M510.9,35.0v4.5M510.9,630.5V637.6M510.9,956.0v-2.6M542.2,35.0v8M542.2,627.0V639.5M542.2,956.0v-4.5M573.5,35.0v4.5M573.5,630.5V637.6M573.5,956.0v-2.6M604.8,35.0v8M604.8,627.0V639.5M604.8,956.0v-4.5M636.1,35.0v4.5M636.1,630.5V637.6M636.1,956.0v-2.6M667.4,35.0v8M667.4,627.0V639.5M667.4,956.0v-4.5M698.7,35.0v4.5M698.7,630.5V637.6M698.7,956.0v-2.6M730.0,35.0v16M730.0,619.0V644.5M730.0,956.0v-9.5M91.0,630.9h11.5M742.0,630.9h-11.5M91.0,613.7h11.5M742.0,613.7h-11.5M91.0,600.4h11.5M742.0,600.4h-11.5M91.0,589.5h11.5M742.0,589.5h-11.5M91.0,580.3h11.5M742.0,580.3h-11.5M91.0,572.4h11.5M742.0,572.4h-11.5M91.0,565.3h11.5M742.0,565.3h-11.5M91.0,559.1h22.5M742.0,559.1h-22.5M91.0,517.7h11.5M742.0,517.7h-11.5M91.0,493.5h11.5M742.0,493.5h-11.5M91.0,476.4h11.5M742.0,476.4h-11.5M91.0,463.1h11.5M742.0,463.1h-11.5M91.0,452.2h11.5M742.0,452.2h-11.5M91.0,443.0h11.5M742.0,443.0h-11.5M91.0,435.0h11.5M742.0,435.0h-11.5M91.0,428.0h11.5M742.0,428.0h-11.5M91.0,421.7h22.5M742.0,421.7h-22.5M91.0,380.4h11.5M742.0,380.4h-11.5M91.0,356.2h11.5M742.0,356.2h-11.5M91.0,339.0h11.5M742.0,339.0h-11.5M91.0,325.7h11.5M742.0,325.7h-11.5M91.0,314.9h11.5M742.0,314.9h-11.5M91.0,305.7h11.5M742.0,305.7h-11.5M91.0,297.7h11.5M742.0,297.7h-11.5M91.0,290.7h11.5M742.0,290.7h-11.5M91.0,284.4h22.5M742.0,284.4h-22.5M91.0,243.1h11.5M742.0,243.1h-11.5M91.0,218.9h11.5M742.0,218.9h-11.5M91.0,201.7h11.5M742.0,201.7h-11.5M91.0,188.4h11.5M742.0,188.4h-11.5M91.0,177.5h11.5M742.0,177.5h-11.5M91.0,168.3h11.5M742.0,168.3h-11.5M91.0,160.4h11.5M742.0,160.4h-11.5M91.0,153.4h11.5M742.0,153.4h-11.5M91.0,147.1h22.5M742.0,147.1h-22.5M91.0,105.7h11.5M742.0,105.7h-11.5M91.0,81.5h11.5M742.0,81.5h-11.5M91.0,64.4h11.5M742.0,64.4h-11.5M91.0,51.1h11.5M742.0,51.1h-11.5M91.0,40.2h11.5M742.0,40.2h-11.5M91.0,916.9h14.5M742.0,916.9h-14.5M91.0,885.0h10M742.0,885.0h-10M91.0,858.0h10M742.0,858.0h-10M91.0,834.6h10M742.0,834.6h-10M91.0,814.0h10M742.0,814.0h-10M91.0,778.8h10M742.0,778.8h-10M91.0,763.6h10M742.0,763.6h-10M91.0,749.5h10M742.0,749.5h-10M91.0,736.6h10M742.0,736.6h-10M91.0,724.5h14.5M742.0,724.5h-14.5M91.0,713.2h10M742.0,713.2h-10M91.0,702.5h10M742.0,702.5h-10M91.0,692.5h10M742.0,692.5h-10M91.0,683.1h10M742.0,683.1h-10M91.0,674.1h14.5M742.0,674.1h-14.5M91.0,665.5h10M742.0,665.5h-10M91.0,657.4h10M742.0,657.4h-10M91.0,649.6h10M742.0,649.6h-10M91.0,642.1h10M742.0,642.1h-10" stroke-width="1.5"/>
</g>
<g fill="#000">
<text transform="translate(103.6,29.2) scale(1,1.06)" font-size="24" textLength="156.2" lengthAdjust="spacingAndGlyphs">13000 GeV pp</text>
<text transform="translate(730.8,29.0) scale(1,1.06)" font-size="24" text-anchor="end">Jets</text>
<text transform="translate(67.4,87.4) scale(1,1.06)" font-size="24.2" textLength="549.9" lengthAdjust="spacingAndGlyphs">CMS, 13 TeV, AK8 jets, central dijet region, 800 &lt;p</text>
<text transform="translate(608.0,70.4) scale(1,1.06)" font-size="15">{jet</text>
<text transform="translate(608.0,99.6) scale(1,1.06)" font-size="15.5">T</text>
<text transform="translate(630.2,87.4) scale(1,1.06)" font-size="24.2" textLength="136.4" lengthAdjust="spacingAndGlyphs">}&lt; 1000 GeV</text>
<text transform="translate(79.2,155.3) scale(1,1.0)" font-size="22.4" text-anchor="end">10</text>
<text transform="translate(83.0,292.7) scale(1,1.0)" font-size="21.8" text-anchor="end">1</text>
<text transform="translate(65.6,432.2) scale(1,1.0)" font-size="22.4" text-anchor="end">10</text>
<text transform="translate(64.6,423.2) scale(1,1.0)" font-size="15" textLength="15.6" lengthAdjust="spacingAndGlyphs">−1</text>
<text transform="translate(65.6,569.2) scale(1,1.0)" font-size="22.4" text-anchor="end">10</text>
<text transform="translate(64.6,560.2) scale(1,1.0)" font-size="15" textLength="15.6" lengthAdjust="spacingAndGlyphs">−2</text>
<text transform="translate(76.8,682.9) scale(1,1.0)" font-size="23.4" text-anchor="end">2</text>
<text transform="translate(77.8,805.0) scale(1,1.0)" font-size="23" text-anchor="end">1</text>
<text transform="translate(77.0,925.3) scale(1,1.0)" font-size="23.4" text-anchor="end">0.5</text>
<text transform="translate(747.8,682.9) scale(1,1.0)" font-size="23.4">2</text>
<text transform="translate(747.2,805.3) scale(1,1.0)" font-size="23">1</text>
<text transform="translate(747.8,925.3) scale(1,1.0)" font-size="23.4">0.5</text>
<text transform="translate(103.7,978.3) scale(1,1.015)" font-size="23.6" text-anchor="middle">0</text>
<text transform="translate(417.3,978.3) scale(1,1.015)" font-size="23.6" text-anchor="middle">0.5</text>
<text transform="translate(730.8,978.3) scale(1,1.015)" font-size="23.6" text-anchor="middle">1</text>
<text transform="translate(742.0,1009.5) scale(1,1.0)" font-size="25" text-anchor="end">LHA</text>
<rect x="147.9" y="416.7" width="10.6" height="10.6" fill="#000"/>
<text transform="translate(187.0,428.5) scale(1,1.06)" font-size="19">CMS</text>
<line x1="128.6" y1="448.0" x2="177.2" y2="448.0" stroke="#a0540f" stroke-width="1.1" stroke-dasharray="4.7 3.5"/>
<circle cx="153.2" cy="448.0" r="5.20" fill="none" stroke="#a0540f" stroke-width="1.6"/>
<text transform="translate(187.0,454.5) scale(1,1.06)" font-size="19">Herwig++ 2.7.1 default</text>
<line x1="128.6" y1="474.1" x2="177.2" y2="474.1" stroke="#3a8c12" stroke-width="1.1" stroke-dasharray="4.7 3.5"/>
<rect x="148.2" y="469.1" width="10.0" height="10.0" fill="none" stroke="#3a8c12" stroke-width="1.6"/>
<text transform="translate(187.0,480.6) scale(1,1.06)" font-size="19">Herwig 7.2.1 default</text>
<line x1="128.6" y1="500.1" x2="177.2" y2="500.1" stroke="#0000ee" stroke-width="1.1"/>
<polygon points="147.8,505.3 158.6,505.3 153.2,494.5" fill="#0000ee"/>
<text transform="translate(187.0,506.6) scale(1,1.06)" font-size="19">Pythia 8.315 default</text>
<line x1="128.6" y1="526.1" x2="177.2" y2="526.1" stroke="#00a0c4" stroke-width="1.1" stroke-dasharray="7 3.9 1.7 3.9"/>
<polygon points="147.8,520.9 158.6,520.9 153.2,531.7" fill="#00a0c4"/>
<text transform="translate(187.0,532.6) scale(1,1.06)" font-size="19">Pythia 8.315 vincia-default</text>
<line x1="128.6" y1="552.1" x2="177.2" y2="552.1" stroke="#ff0000" stroke-width="1.1" stroke-dasharray="1.6 2.57"/>
<polygon points="153.2,546.1 157.3,552.1 153.2,558.1 149.1,552.1" fill="#ff0000"/>
<text transform="translate(187.0,558.6) scale(1,1.06)" font-size="19">Sherpa 2.2.9 default</text>
</g>
<text transform="translate(416.3,603.9) scale(1,1.02)" font-size="15.8" text-anchor="middle" fill="#a3a3a3">(CMS_2021_I1920187)</text>
<text transform="translate(760.0,254.3) rotate(-90) scale(1,1.02)" font-size="18.93" fill="#7f7f7f">Rivet 4.1.0, ≥ 100k events</text>
<text transform="translate(762.2,629.3) rotate(-90) scale(1,1.0)" font-size="19.14" fill="#4d4d4d">mcplots.cern.ch [arXiv:2401.10621]</text>
<text transform="translate(36.9,793.2) rotate(-90) scale(1,1.08)" font-size="17.85" text-anchor="middle" fill="#000">Ratio to CMS</text>
<g fill="#000">
<text transform="translate(27.8,267.0) rotate(-90) scale(1,1.0)" font-size="24">#</text>
<text transform="translate(27.8,139.6) rotate(-90) scale(1,1.0)" font-size="24">#</text>
<line x1="21.1" y1="253.2" x2="21.1" y2="139.6" stroke="#000" stroke-width="2"/>
<line x1="21.1" y1="126.9" x2="21.1" y2="35.3" stroke="#000" stroke-width="2"/>
<text transform="translate(17.6,196.0) rotate(-90) scale(1,1.0)" font-size="24" text-anchor="middle">1</text>
<text transform="translate(43.0,246.0) rotate(-90) scale(1,1.0)" font-size="24.5">d</text>
<text transform="translate(43.0,227.9) rotate(-90) scale(1,1.0)" font-size="24.5">N</text>
<text transform="translate(43.0,202.0) rotate(-90) scale(1,1.0)" font-size="24.5">/</text>
<text transform="translate(43.0,182.3) rotate(-90) scale(1,1.0)" font-size="24.5">d</text>
<text transform="translate(43.0,162.5) rotate(-90) scale(1,1.0)" font-size="24.5">p</text>
<text transform="translate(56.3,152.3) rotate(-90) scale(1,1.0)" font-size="15.5">T</text>
<text transform="translate(17.0,96.0) rotate(-90) scale(1,1.06)" font-size="24.5">d</text>
<text transform="translate(5.9,83.6) rotate(-90) scale(1,1.06)" font-size="15.5">2</text>
<text transform="translate(17.0,74.9) rotate(-90) scale(1,1.06)" font-size="24.5">N</text>
<text transform="translate(43.3,120.5) rotate(-90) scale(1,1.0)" font-size="24.5">d</text>
<text transform="translate(43.3,105.9) rotate(-90) scale(1,1.0)" font-size="24.5">p</text>
<text transform="translate(56.7,89.9) rotate(-90) scale(1,1.0)" font-size="15.5">T</text>
<text transform="translate(43.3,65.0) rotate(-90) scale(1,1.0)" font-size="24.5">d</text>
<text transform="translate(43.3,48.6) rotate(-90) scale(1,1.0)" font-size="24.5">λ</text>
</g>
</svg>
</body></html>
